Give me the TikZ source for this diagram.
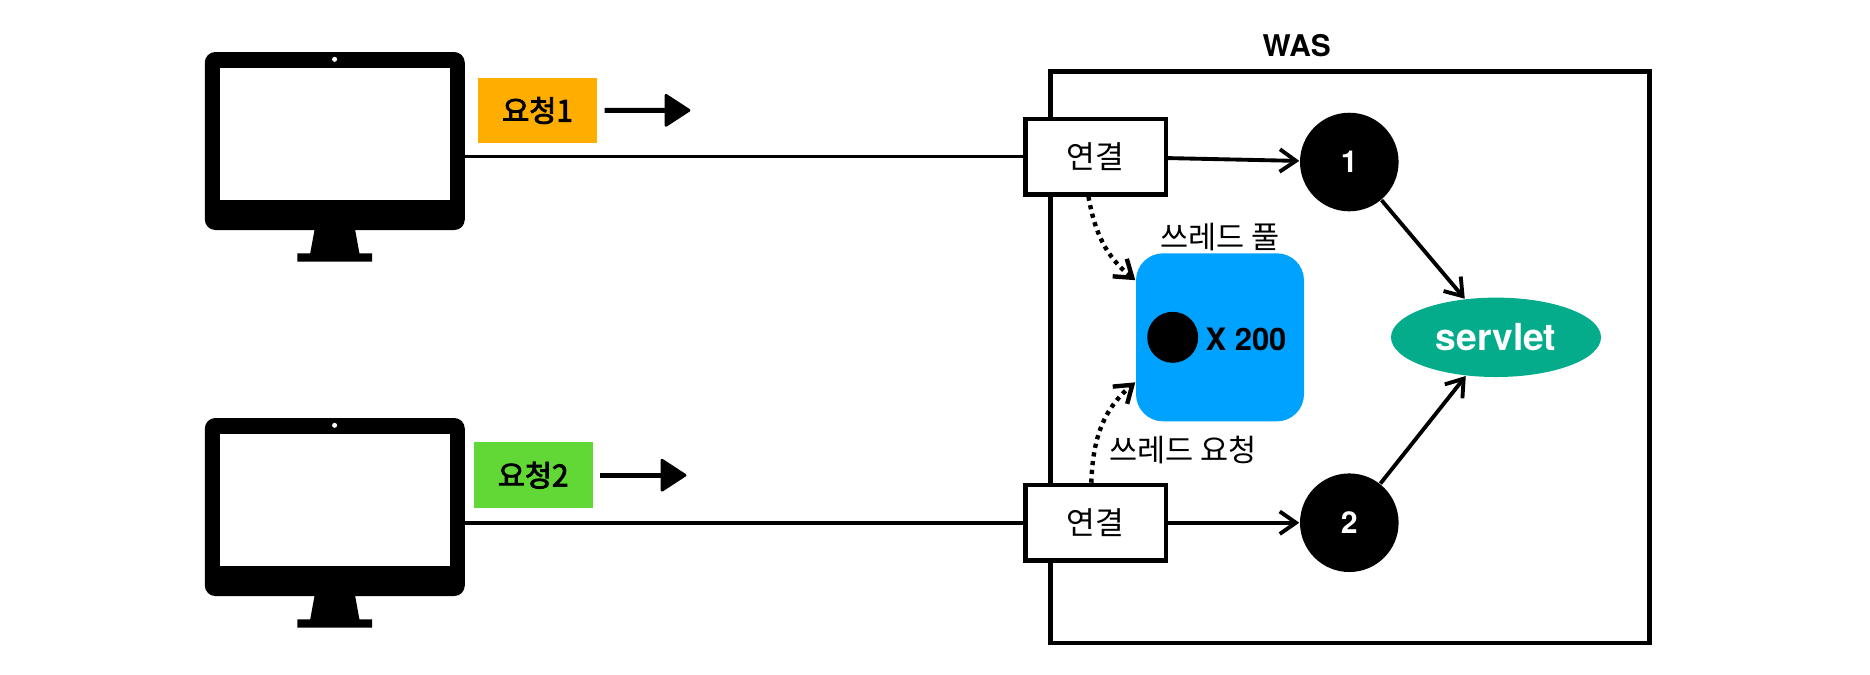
\documentclass[tikz,border=0pt]{standalone}
\usepackage{tikz}
\usepackage{xcolor}
\usepackage{fontspec}
\setmainfont{TeX Gyre Heros}
\newfontfamily\krfont{Noto Sans CJK KR}
\font\krmedium="Noto Sans CJK KR:embolden=3" at 8.4pt
\usetikzlibrary{calc,arrows.meta,positioning,shapes.geometric}
\definecolor{reqOrange}{RGB}{255,174,0}
\definecolor{reqGreen}{RGB}{97,216,54}
\definecolor{poolBlue}{RGB}{0,162,255}
\definecolor{servletGreen}{RGB}{4,172,140}
\tikzset{
  screenbody/.style={rectangle,rounded corners=3pt,fill=black,minimum width=2.60cm,minimum height=1.78cm,inner sep=0pt,outer sep=0pt},
  screenpane/.style={rectangle,fill=white,minimum width=2.304cm,minimum height=1.314cm,inner sep=0pt},
  reqlabel/.style={rectangle,minimum width=1.19cm,minimum height=0.655cm,inner sep=0pt,font=\krmedium},
  connbox/.style={rectangle,draw=black,fill=white,line width=1.25pt,minimum width=1.404cm,minimum height=0.756cm,inner sep=0pt,font=\krfont\fontsize{8.9}{9}\selectfont},
  threadnode/.style={circle,fill=black,text=white,minimum size=0.986cm,inner sep=0pt,font=\bfseries\fontsize{8.6}{9}\selectfont},
  krlabel/.style={font=\krfont\fontsize{8.7}{9}\selectfont,inner sep=0pt},
  link/.style={line width=1.1pt,-{Straight Barb[length=4.6pt,width=6.4pt]}},
  plainlink/.style={line width=1.1pt},
  dotlink/.style={line width=1.25pt,dash pattern=on 1.2pt off 1.3pt,-{Straight Barb[length=4.6pt,width=6.4pt]}},
  sketchlink/.style={line width=1.4pt},
  sketchhead/.style={fill=black,draw=black,line width=0.8pt,line join=round}
}

\begin{document}
\begin{tikzpicture}[x=1cm,y=1cm]
\path[use as bounding box,fill=white] (0,0) rectangle (18.70,-6.74);

% first client
\node[screenbody] (cliA) at (3.348,-1.41) {};
\node[screenpane] at (3.348,-1.34) {};
\node[circle,fill=white,minimum size=0.05cm,inner sep=0pt] at (3.346,-0.593) {};
\fill (3.147,-2.29) -- (3.55,-2.29) -- (3.594,-2.533) -- (3.722,-2.533) -- (3.722,-2.617) -- (2.974,-2.617) -- (2.974,-2.533) -- (3.102,-2.533) -- cycle;

% second client
\node[screenbody] (cliB) at (3.348,-5.07) {};
\node[screenpane] at (3.348,-5.00) {};
\node[circle,fill=white,minimum size=0.05cm,inner sep=0pt] at (3.346,-4.253) {};
\fill (3.147,-5.95) -- (3.55,-5.95) -- (3.594,-6.193) -- (3.722,-6.193) -- (3.722,-6.277) -- (2.974,-6.277) -- (2.974,-6.193) -- (3.102,-6.193) -- cycle;

% requests
\node[reqlabel,fill=reqOrange] (reqA) at (5.375,-1.105) {요청1};
\coordinate (reqAneck) at (6.66,-1.103);
\draw[sketchlink,shorten <=0.07cm] (reqA) -- (reqAneck);
\draw[sketchhead] (reqAneck) -- ++(0,0.15) -- ++(0.23,-0.15) -- ++(-0.23,-0.15) -- cycle;
\node[reqlabel,fill=reqGreen] (reqB) at (5.331,-4.752) {요청2};
\coordinate (reqBneck) at (6.62,-4.752);
\draw[sketchlink,shorten <=0.07cm] (reqB) -- (reqBneck);
\draw[sketchhead] (reqBneck) -- ++(0,0.15) -- ++(0.23,-0.15) -- ++(-0.23,-0.15) -- cycle;

% server
\node[rectangle,draw=black,line width=1.3pt,minimum width=5.99cm,minimum height=5.717cm,inner sep=0pt] (was) at (13.498,-3.572) {};
\node[inner sep=0pt,font=\bfseries\fontsize{8.5}{9}\selectfont] (wasLabel) at (12.967,-0.457) {WAS};

\node[connbox] (conA) at (10.955,-1.565) {연결};
\node[connbox] (conB) at (10.955,-5.227) {연결};

\node[threadnode] (thrA) at (13.493,-1.62) {1};
\node[threadnode] (thrB) at (13.493,-5.227) {2};

\node[ellipse,fill=servletGreen,text=white,minimum width=2.10cm,minimum height=0.794cm,inner sep=0pt,font=\bfseries\fontsize{10.6}{11}\selectfont] (serv) at (14.96,-3.373) {servlet};

\node[rectangle,rounded corners=7.7pt,fill=poolBlue,minimum width=1.68cm,minimum height=1.68cm,inner sep=0pt] (pool) at (12.20,-3.373) {};
\node[circle,fill=black,minimum size=0.51cm,inner sep=0pt] (poolDot) at (11.727,-3.373) {};
\node[inner sep=0pt,font=\bfseries\fontsize{8.8}{9}\selectfont] (poolCount) at (12.46,-3.39) {X 200};
\node[krlabel] (poolLabel) at (12.20,-2.37) {쓰레드 풀};
\node[krlabel] (askLabel) at (11.83,-4.50) {쓰레드 요청};

% links
\draw[plainlink] (cliA.east |- conA) -- (conA);
\draw[plainlink] (cliB.east |- conB) -- (conB);
\draw[link] (conA) -- (thrA);
\draw[link] (conB) -- (thrB);
\draw[link] (thrA) -- (serv.129);
\draw[link] (thrB) -- (serv.232);
\draw[dotlink] (conA.260) to[out=-80,in=141] (pool.146.5);
\draw[dotlink] (conB.96) to[out=88,in=220] (pool.208.7);
\end{tikzpicture}
\end{document}
